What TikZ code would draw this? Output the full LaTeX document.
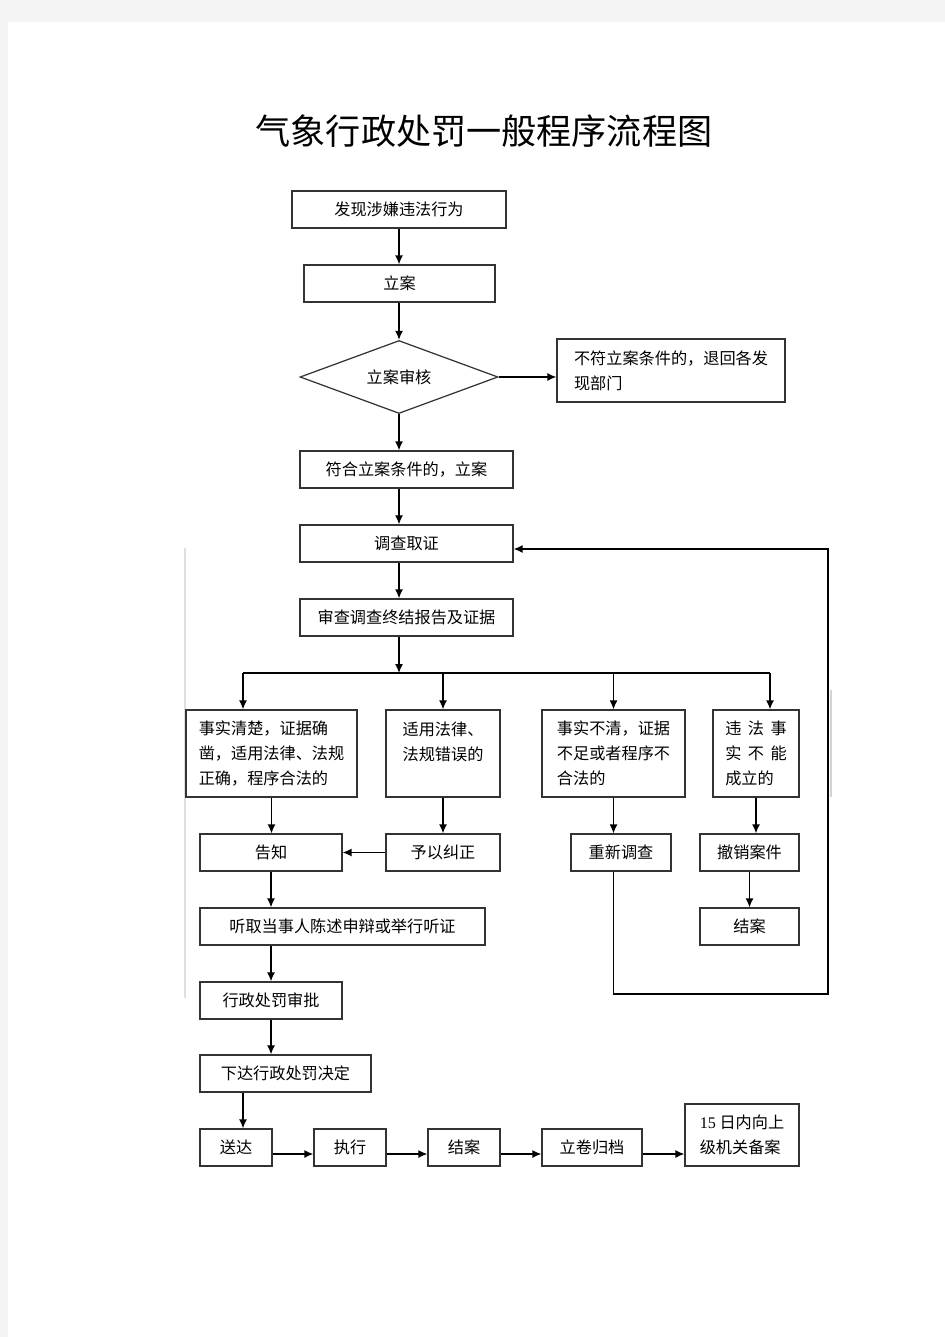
\documentclass[tikz,border=0pt]{standalone}
\usepackage{fontspec}
\setmainfont{Liberation Serif}
\newfontfamily\cjk{Noto Sans CJK SC}
\usepackage{xcolor}
\usetikzlibrary{shapes.geometric}
\usetikzlibrary{arrows.meta}

\definecolor{pagebg}{HTML}{F4F4F4}

\tikzset{
  box/.style={draw=black!80, line width=0.7pt, fill=white, inner sep=0pt,
    minimum height=0.74cm, align=left, font=\cjk\fontsize{9.2}{14.2}\selectfont},
  flow/.style={line width=0.8pt, -{Latex[length=1.8mm,width=1.6mm]}},
  plain/.style={line width=0.8pt}
}

\begin{document}
\begin{tikzpicture}[x=0.02cm, y=-0.02cm]

% page
\fill[pagebg] (0,0) rectangle (945,1337);
\fill[white] (8,22) rectangle (945,1337);
\useasboundingbox (0,0) rectangle (945,1337);
\draw[gray!25, line width=0.6pt] (185,548) -- (185,998);
\draw[gray!35, line width=0.6pt] (831,690) -- (831,797);

\node (title) at (484,131) {\cjk\fontsize{20}{24}\selectfont 气象行政处罚一般程序流程图};

% nodes
\node[box, minimum width=4.28cm] (find) at (399,209.5) {发现涉嫌违法行为};
\node[box, minimum width=3.82cm] (lian) at (399.5,283.5) {立案};
\node[box, diamond, aspect=2.7, minimum width=3.96cm, minimum height=1.46cm] (check) at (399,377) {立案审核};
\node[box, minimum width=4.56cm, minimum height=1.26cm] (reject) at (671,370.5) {不符立案条件的，退回各发\\现部门};
\node[box, minimum width=4.26cm] (fuhe) at (406.5,469.5) {符合立案条件的，立案};
\node[box, minimum width=4.26cm] (diaocha) at (406.5,543.5) {调查取证};
\node[box, minimum width=4.26cm] (shencha) at (406.5,617.5) {审查调查终结报告及证据};

\node[box, minimum width=3.42cm, minimum height=1.74cm] (caseA) at (271.5,753.5) {事实清楚，证据确\\凿，适用法律、法规\\正确，程序合法的};
\node[box, minimum width=2.28cm, minimum height=1.74cm] (caseB) at (443,753.5) {适用法律、\\法规错误的\\\mbox{}};
\node[box, minimum width=2.86cm, minimum height=1.74cm] (caseC) at (613.5,753.5) {事实不清，证据\\不足或者程序不\\合法的};
\node[box, minimum width=1.72cm, minimum height=1.74cm] (caseD) at (756,753.5) {违\hspace{0.4em}法\hspace{0.4em}事\\实\hspace{0.4em}不\hspace{0.4em}能\\成立的};

\node[box, minimum width=2.84cm] (notify) at (271,852.5) {告知};
\node[box, minimum width=2.28cm] (correct) at (443,852.5) {予以纠正};
\node[box, minimum width=2.0cm] (reinv) at (621,852.5) {重新调查};
\node[box, minimum width=1.98cm] (revoke) at (749.5,852.5) {撤销案件};
\node[box, minimum width=5.7cm] (hear) at (342.5,926.5) {听取当事人陈述申辩或举行听证};
\node[box, minimum width=1.98cm] (close1) at (749.5,926.5) {结案};
\node[box, minimum width=2.84cm] (approve) at (271,1000.5) {行政处罚审批};
\node[box, minimum width=3.42cm] (decide) at (285.5,1073.5) {下达行政处罚决定};

\node[box, minimum width=1.44cm] (serve) at (236,1147.5) {送达};
\node[box, minimum width=1.44cm] (exec) at (350,1147.5) {执行};
\node[box, minimum width=1.44cm] (close2) at (464,1147.5) {结案};
\node[box, minimum width=2.0cm] (archive) at (592,1147.5) {立卷归档};
\node[box, minimum width=2.28cm, minimum height=1.24cm] (report) at (742,1135) {{\rmfamily 15} 日内向上\\级机关备案};

% main line
\draw[flow] (find.south) -- (find.south |- lian.north);
\draw[flow] (check.north |- lian.south) -- (check.north);
\draw[flow] (check.east) -- (check.east -| reject.west);
\draw[flow] (check.south) -- (check.south |- fuhe.north);
\draw[flow] (check.south |- fuhe.south) -- (check.south |- diaocha.north);
\draw[flow] (check.south |- diaocha.south) -- (check.south |- shencha.north);

% branches
\coordinate (split) at (399,673);
\coordinate (splitA) at (243,673);
\coordinate (splitD) at (770,673);
\draw[flow] (check.south |- shencha.south) -- (split);
\draw[plain] (splitA) -- (splitD);
\draw[flow] (splitA) -- (splitA |- caseA.north);
\draw[flow] (caseB.north |- split) -- (caseB.north);
\draw[flow] (caseC.north |- split) -- (caseC.north);
\draw[flow] (splitD) -- (splitD |- caseD.north);

\draw[flow] (caseA.south) -- (caseA.south |- notify.north);
\draw[flow] (caseB.south) -- (correct.north);
\draw[flow] (caseC.south) -- (caseC.south |- reinv.north);
\draw[flow] (caseD.south) -- (caseD.south |- revoke.north);
\draw[flow] (correct.west) -- (correct.west -| notify.east);
\draw[flow] (notify.south) -- (notify.south |- hear.north);
\draw[flow] (revoke.south) -- (close1.north);
\draw[flow] (notify.south |- hear.south) -- (approve.north);
\draw[flow] (approve.south) -- (approve.south |- decide.north);
\draw[flow] ([xshift=0.14cm]serve.north |- decide.south) -- ([xshift=0.14cm]serve.north);

% bottom row
\foreach \a/\b in {serve/exec, exec/close2, close2/archive}
  \draw[flow] ([yshift=-0.13cm]\a.east) -- ([yshift=-0.13cm]\b.west);
\draw[flow] ([yshift=-0.13cm]archive.east) -- ([yshift=-0.13cm]archive.east -| report.west);

% back to investigation
\coordinate (loopB) at (828,994);
\coordinate (loopT) at (828,549);
\draw[flow] (caseC.south |- reinv.south) -- (caseC.south |- loopB) -- (loopB) -- (loopT) -- (loopT -| diaocha.east);

\end{tikzpicture}
\end{document}
